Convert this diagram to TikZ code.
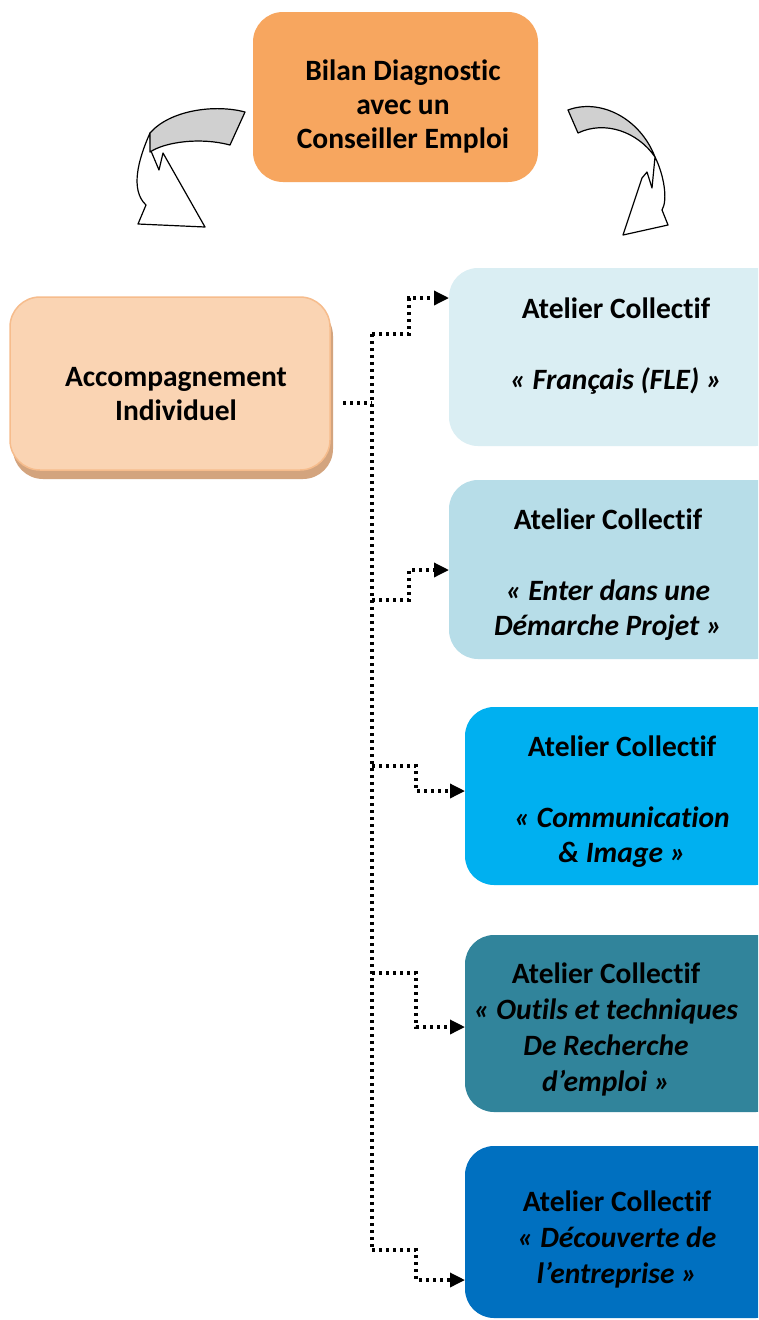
\documentclass[tikz,border=0pt]{standalone}
\usepackage{fontspec}
\setmainfont{Carlito}[Ligatures={NoCommon}]
\usetikzlibrary{arrows.meta}
\definecolor{bilan}{HTML}{F7A65F}
\definecolor{accfill}{HTML}{FAD4B3}
\definecolor{accdraw}{HTML}{F6BC8C}
\definecolor{accshadow}{HTML}{D3A47E}
\definecolor{cA}{HTML}{DAEEF3}
\definecolor{cB}{HTML}{B7DDE8}
\definecolor{cC}{HTML}{00B0F0}
\definecolor{cD}{HTML}{31849B}
\definecolor{cE}{HTML}{0070C0}
\definecolor{band}{HTML}{D0D0D0}
\tikzset{
  boxshape/.style={rectangle, rounded corners=29pt, inner sep=0pt, outer sep=0pt, anchor=north west},
  label/.style={font=\fontsize{29.5}{34}\selectfont\bfseries, align=center, inner sep=0pt},
  widelabel/.style={label, font=\fontsize{29.5}{36}\selectfont\bfseries},
  midlabel/.style={label, font=\fontsize{29.5}{35}\selectfont\bfseries},
  conn/.style={line width=3.4pt, dash pattern=on 3.4pt off 3.6pt, -{Triangle[length=15pt,width=14pt]}},
  trunk/.style={line width=3.4pt, dash pattern=on 3.4pt off 3.6pt},
  curv/.style={line width=1.2pt, line join=round}
}
\begin{document}
\begin{tikzpicture}[x=1pt,y=-1pt]
\useasboundingbox (0,0) rectangle (758,1320);
\clip (0,0) rectangle (758,1320);
\fill[white] (0,0) rectangle (758,1320);

% top box
\node[boxshape, fill=bilan, minimum width=285pt, minimum height=170pt, rounded corners=30pt] (bil) at (253,12) {};
\node[label] (bilt) at (403,106) {Bilan Diagnostic\\avec un\\Conseiller Emploi};

% curved arrows
\draw[curv, fill=white] (150,133) .. controls (138,160) and (130,190) .. (146,205) -- (138,224) -- (205,227) -- (163,153) -- (159,170) -- (151,151) -- cycle;
\draw[curv, fill=band] (245,112) .. controls (215,104) and (170,110) .. (150,133) -- (150,152) .. controls (165,142) and (200,137) .. (230,145) -- cycle;

\draw[curv, fill=white] (655,157) .. controls (664,175) and (668,200) .. (662,210) -- (668,225) -- (623,235) -- (642,178) -- (647,172) -- (652,188) -- cycle;
\draw[curv, fill=band] (568,110) .. controls (600,98) and (640,118) .. (655,157) .. controls (638,132) and (605,120) .. (578,133) -- cycle;

% accompagnement
\fill[accshadow, rounded corners=30pt] (13,306) rectangle (333,479);
\node[boxshape, fill=accfill, draw=accdraw, line width=1.5pt, minimum width=320pt, minimum height=173pt, rounded corners=30pt] (acc) at (10,297) {};
\node[label] (acct) at (176,394) {Accompagnement\\Individuel};

% ateliers
\node[boxshape, fill=cA, minimum width=336pt, minimum height=178pt] (b1) at (449,268) {};
\node[boxshape, fill=cB, minimum width=336pt, minimum height=179pt] (b2) at (449,480) {};
\node[boxshape, fill=cC, minimum width=320pt, minimum height=178pt] (b3) at (465,707) {};
\node[boxshape, fill=cD, minimum width=320pt, minimum height=177pt] (b4) at (465,935) {};
\node[boxshape, fill=cE, minimum width=320pt, minimum height=172pt] (b5) at (465,1146) {};

\node[label] (t1) at (616,346) {Atelier Collectif\\[37pt]\textit{« Français (FLE) »}};
\node[midlabel] (t2) at (608,575) {Atelier Collectif\\[36pt]\textit{« Enter dans une}\\\textit{Démarche Projet »}};
\node[midlabel] (t3) at (622,802) {Atelier Collectif\\[36pt]\textit{« Communication}\\\textit{\& Image »}};
\node[widelabel] (t4) at (606,1029) {Atelier Collectif\\\textit{« Outils et techniques}\\\textit{De Recherche}\\\textit{d’emploi »}};
\node[widelabel] (t5) at (617,1239) {Atelier Collectif\\\textit{« Découverte de}\\\textit{l’entreprise »}};

% connectors
\coordinate (j0) at (372,403);
\coordinate (top) at (372,334);
\coordinate (bot) at (372,1250);
\coordinate (j2) at (372,600);
\coordinate (j3) at (372,766);
\coordinate (j4) at (372,973);
\draw[trunk] (acc.east |- j0) ++(13,0) -- (j0);
\draw[trunk] (top) -- (bot);
\draw[conn] (top) -- ++(37,0) -- ++(0,-36) -- (b1.west |- 0,298);
\draw[conn] (j2) -- ++(37,0) -- ++(0,-30) -- (b1.west |- 0,570);
\draw[conn] (j3) -- ++(44,0) -- ++(0,25) -- (b3.west |- 0,791);
\draw[conn] (j4) -- ++(44,0) -- ++(0,54) -- (b3.west |- 0,1027);
\draw[conn] (bot) -- ++(44,0) -- ++(0,30) -- (b3.west |- 0,1280);
\end{tikzpicture}
\end{document}
